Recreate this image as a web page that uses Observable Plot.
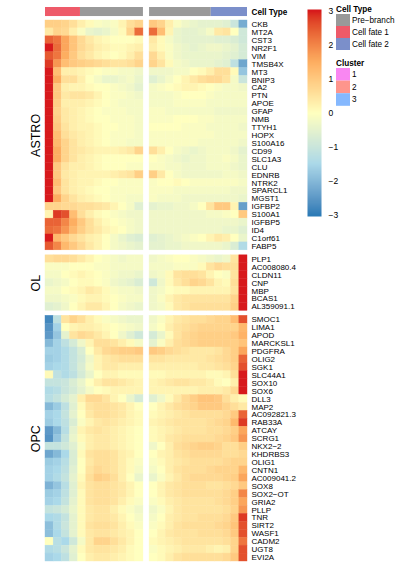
<!DOCTYPE html>
<html><head><meta charset="utf-8">
<script src="https://cdn.jsdelivr.net/npm/d3@7"></script>
<script src="https://cdn.jsdelivr.net/npm/@observablehq/plot@0.6"></script>
<style>
body{margin:0;background:#fff;}
#wrap{position:relative;width:400px;height:563px;font-family:"Liberation Sans",Arial,Helvetica,sans-serif;}
#wrap > *{position:absolute;left:0;top:0;}
</style></head><body><div id="wrap"></div>
<script>
// ---------------- DATA ----------------
const groups = ["ASTRO", "OL", "OPC"];
const groupSizes = [29, 7, 31];
const genes = [
  "CKB","MT2A","CST3","NR2F1","VIM","TMSB4X","MT3","BNIP3","CA2","PTN","APOE","GFAP","NMB","TTYH1","HOPX","S100A16","CD99","SLC1A3","CLU","EDNRB","NTRK2","SPARCL1","MGST1","IGFBP2","S100A1","IGFBP5","ID4","C1orf61","FABP5",
  "PLP1","AC008080.4","CLDN11","CNP","MBP","BCAS1","AL359091.1",
  "SMOC1","LIMA1","APOD","MARCKSL1","PDGFRA","OLIG2","SGK1","SLC44A1","SOX10","SOX6","DLL3","MAP2","AC092821.3","RAB33A","ATCAY","SCRG1","NKX2\u22122","KHDRBS3","OLIG1","CNTN1","AC009041.2","SOX8","SOX2\u2212OT","GRIA2","PLLP","TNR","SIRT2","WASF1","CADM2","UGT8","EVI2A"
];
// left panel: cell fate 1 (left) -> pre-branch (right)
const leftValues = [
  [0.9,0.9,0.8,0.6,0.3,0.1,-0.1,-0.2,-0.1,0.2,0.6,0.8],
  [0.4,0.8,0.7,0.3,-0.1,-0.4,-0.5,-0.4,-0.2,0.1,0.8,2.3],
  [2.4,2.2,1.6,1.1,0.7,0.4,0.2,0.1,0.0,0.0,0.0,0.1],
  [3.0,2.3,1.6,1.1,0.7,0.5,0.3,0.2,0.1,0.1,0.2,0.3],
  [2.5,2.2,1.5,1.0,0.6,0.4,0.2,0.1,0.0,0.1,0.3,0.6],
  [2.8,1.8,1.2,1.0,0.9,0.8,0.7,0.6,0.5,0.5,0.6,0.8],
  [3.0,1.2,0.3,0.3,0.2,0.1,0.0,-0.1,-0.1,-0.2,-0.2,-0.3],
  [3.0,1.5,0.6,0.6,0.3,0.0,-0.2,-0.4,-0.4,-0.3,-0.2,-0.4],
  [3.0,1.0,0.3,0.2,0.2,0.1,0.0,0.0,-0.1,-0.2,-0.3,-0.5],
  [3.0,1.0,0.4,0.5,0.5,0.4,0.2,0.0,-0.1,-0.1,-0.2,-0.3],
  [3.0,0.9,0.3,0.3,0.3,0.2,0.1,0.0,-0.1,-0.2,-0.2,-0.2],
  [3.0,0.8,0.4,0.3,0.2,0.1,0.0,-0.1,-0.1,-0.1,-0.2,-0.2],
  [3.0,0.9,0.4,0.3,0.2,0.1,0.0,0.0,-0.1,-0.1,-0.1,-0.2],
  [3.0,1.0,0.5,0.3,0.2,0.2,0.1,0.0,0.0,-0.1,-0.1,-0.2],
  [3.0,1.2,0.6,0.4,0.3,0.2,0.1,0.0,-0.1,-0.1,-0.1,-0.2],
  [3.0,1.3,0.8,0.5,0.3,0.2,0.1,0.0,-0.1,-0.1,-0.2,-0.2],
  [3.0,1.5,0.8,0.5,0.4,0.3,0.2,0.2,0.2,0.3,0.4,0.8],
  [3.0,1.5,0.8,0.5,0.3,0.2,0.1,0.0,0.0,0.0,0.0,0.0],
  [3.0,1.0,0.5,0.3,0.3,0.2,0.1,0.0,0.0,0.0,-0.1,-0.1],
  [3.0,1.0,0.4,0.3,0.2,0.2,0.2,0.2,0.3,0.4,0.5,0.9],
  [3.0,1.2,0.5,0.3,0.2,0.2,0.1,0.0,0.0,-0.1,-0.1,-0.1],
  [3.0,1.0,0.5,0.3,0.2,0.1,0.0,0.0,-0.1,-0.1,-0.1,-0.1],
  [3.0,1.5,0.8,0.5,0.3,0.2,0.1,0.0,-0.1,-0.1,-0.2,-0.2],
  [0.8,0.8,0.7,0.7,0.6,0.6,0.5,0.4,0.2,0.0,-0.2,-0.6],
  [0.2,2.8,2.6,1.2,0.6,0.3,0.1,0.0,-0.1,-0.2,-0.3,-0.3],
  [2.4,2.4,2.0,1.5,1.0,0.6,0.3,0.1,0.0,-0.1,-0.2,-0.3],
  [2.3,2.2,1.8,1.3,0.9,0.6,0.4,0.2,0.1,0.0,-0.2,-0.3],
  [3.0,1.3,1.0,0.7,0.5,0.3,0.2,0.0,-0.2,-0.4,-0.6,-0.7],
  [2.5,2.0,1.3,1.0,0.7,0.4,0.2,0.0,-0.2,-0.3,-0.4,-0.5],
  [0.6,0.7,0.7,0.6,0.4,0.2,0.0,-0.1,-0.2,-0.3,-0.2,-0.2],
  [-0.1,-0.1,-0.1,0.0,0.0,0.0,-0.1,-0.1,-0.2,-0.2,-0.2,-0.2],
  [-0.2,-0.2,0.0,0.1,0.2,0.1,0.0,-0.1,-0.2,-0.3,-0.3,-0.4],
  [-0.4,-0.3,-0.2,0.0,0.1,0.1,0.0,-0.1,-0.3,-0.4,-0.5,-0.7],
  [-0.2,-0.2,0.0,0.1,0.2,0.4,0.3,0.1,-0.1,-0.2,-0.2,-0.3],
  [-0.3,-0.3,-0.2,-0.1,0.1,0.2,0.2,0.1,0.0,-0.1,-0.2,-0.2],
  [-0.6,-0.5,-0.3,0.0,0.2,0.4,0.4,0.2,0.0,-0.2,-0.3,-0.4],
  [-2.8,-1.2,0.5,0.8,0.6,0.3,0.1,-0.1,-0.2,-0.3,-0.4,-0.4],
  [-2.6,-1.6,0.0,0.2,0.3,0.3,0.2,0.1,0.0,-0.1,-0.2,-0.3],
  [-2.5,-1.8,-0.5,0.5,0.7,0.6,0.4,0.2,0.0,-0.3,-0.6,-0.9],
  [-2.0,-1.6,-1.2,-0.8,-0.3,0.2,0.6,0.6,0.5,0.3,0.1,-0.2],
  [-1.6,-1.6,-1.4,-1.1,-0.7,0.0,0.4,0.7,0.8,0.9,0.9,1.0],
  [-1.7,-1.6,-1.4,-1.1,-0.8,-0.3,0.2,0.4,0.5,0.6,0.6,0.6],
  [-1.6,-1.5,-1.4,-1.1,-0.7,-0.2,0.2,0.4,0.4,0.3,0.3,0.3],
  [0.1,-1.2,-1.4,-1.2,-0.8,-0.4,0.0,0.2,0.2,0.1,0.1,0.1],
  [-1.1,-1.1,-1.0,-0.7,-0.4,0.0,0.3,0.5,0.5,0.4,0.3,0.2],
  [-1.4,-1.3,-1.0,-0.8,-0.5,-0.2,0.0,0.1,0.2,0.2,0.2,0.2],
  [-1.3,-1.1,-0.8,-0.5,0.3,0.7,0.7,0.5,0.2,0.0,-0.4,-0.8],
  [-2.0,-1.7,-1.2,-0.6,0.1,0.5,0.6,0.6,0.5,0.4,0.2,0.0],
  [-1.6,-1.5,-1.1,-0.5,0.0,0.4,0.6,0.6,0.5,0.4,0.2,0.1],
  [-1.7,-1.5,-1.2,-0.7,-0.1,0.2,0.4,0.5,0.4,0.3,0.2,0.1],
  [-2.5,-2.0,-1.3,-0.5,0.2,0.4,0.5,0.4,0.3,0.2,0.1,0.0],
  [-2.6,-1.8,-1.1,-0.4,0.1,0.3,0.4,0.4,0.3,0.2,0.1,0.0],
  [-1.1,-1.1,-0.9,-0.6,-0.1,0.3,0.4,0.4,0.3,0.2,0.1,0.0],
  [-2.3,-2.0,-1.5,-0.7,0.1,0.5,0.6,0.6,0.5,0.3,0.2,0.0],
  [-1.7,-1.6,-1.3,-0.7,0.0,0.4,0.6,0.6,0.5,0.3,0.1,-0.1],
  [-1.6,-1.5,-1.2,-0.6,0.0,0.5,0.7,0.6,0.5,0.3,0.1,-0.2],
  [-1.6,-1.4,-1.1,-0.5,0.1,0.6,0.9,0.8,0.6,0.3,0.0,-0.4],
  [-2.1,-1.8,-1.3,-0.6,0.2,0.5,0.6,0.6,0.5,0.4,0.2,0.0],
  [-1.7,-1.6,-1.2,-0.6,0.1,0.5,0.6,0.6,0.5,0.4,0.2,0.0],
  [-1.6,-1.5,-1.1,-0.5,0.1,0.5,0.6,0.6,0.5,0.3,0.1,-0.1],
  [-1.1,-1.0,-0.8,-0.4,0.1,0.4,0.5,0.5,0.3,0.1,-0.1,-0.3],
  [-1.5,-1.4,-1.1,-0.5,0.1,0.4,0.5,0.5,0.4,0.2,0.0,-0.2],
  [-1.9,-1.4,-1.0,-0.5,0.1,0.5,0.6,0.6,0.5,0.3,0.1,-0.1],
  [-1.9,-1.5,-1.1,-0.5,0.1,0.4,0.5,0.5,0.4,0.3,0.2,0.0],
  [0.0,-1.3,-1.5,-0.9,-0.2,0.4,0.8,0.8,0.6,0.4,0.2,0.0],
  [-1.4,-1.3,-1.0,-0.5,0.1,0.4,0.5,0.5,0.4,0.3,0.1,0.0],
  [-1.6,-1.5,-1.2,-0.6,0.0,0.3,0.4,0.4,0.3,0.2,0.1,0.0]
];
// right panel: pre-branch (left) -> cell fate 2 (right)
const rightValues = [
  [1.0,0.8,0.3,-0.1,-0.3,-0.4,-0.5,-0.5,-0.5,-0.6,-1.0,-2.2],
  [2.3,1.2,0.2,-0.4,-0.5,-0.5,-0.4,-0.2,0.4,0.5,0.0,-0.9],
  [0.4,0.1,-0.2,-0.4,-0.5,-0.5,-0.5,-0.5,-0.6,-0.6,-0.7,-0.9],
  [0.3,0.1,-0.1,-0.3,-0.4,-0.5,-0.4,-0.3,-0.3,-0.4,-0.5,-0.8],
  [0.7,0.3,-0.1,-0.3,-0.4,-0.4,-0.4,-0.4,-0.4,-0.5,-0.6,-0.8],
  [0.8,0.5,0.1,-0.2,-0.3,-0.4,-0.4,-0.4,-0.5,-0.6,-1.2,-2.3],
  [-0.3,-0.3,-0.3,-0.2,-0.2,0.0,0.1,0.3,0.6,0.6,0.1,-1.8],
  [-0.6,-0.4,-0.2,0.0,0.2,0.4,0.6,0.7,0.7,0.5,-0.2,-1.0],
  [-0.2,-0.1,0.0,0.1,0.2,0.2,0.1,0.0,-0.1,-0.2,-0.2,-0.3],
  [-0.2,-0.2,-0.2,-0.1,0.0,0.0,0.0,-0.1,-0.2,-0.2,-0.2,-0.2],
  [-0.2,-0.2,-0.2,-0.1,-0.1,-0.1,-0.1,-0.2,-0.2,-0.2,-0.2,-0.2],
  [-0.1,-0.1,-0.2,-0.2,-0.2,-0.2,-0.2,-0.2,-0.3,-0.3,-0.3,-0.3],
  [-0.1,-0.1,-0.1,0.0,0.0,0.0,-0.1,-0.1,-0.2,-0.2,-0.2,-0.2],
  [0.0,0.0,0.0,0.0,-0.1,-0.1,-0.1,-0.2,-0.2,-0.2,-0.2,-0.3],
  [-0.1,-0.1,-0.1,-0.1,-0.1,-0.1,-0.1,-0.1,-0.2,-0.2,-0.2,-0.2],
  [-0.1,-0.1,-0.1,-0.1,-0.1,-0.1,-0.2,-0.2,-0.2,-0.2,-0.2,-0.3],
  [0.6,0.3,0.0,-0.2,-0.3,-0.4,-0.3,-0.2,-0.2,-0.2,-0.3,-0.5],
  [0.0,-0.1,-0.2,-0.3,-0.4,-0.3,-0.3,-0.2,-0.2,-0.1,-0.2,-0.4],
  [-0.1,-0.1,-0.2,-0.2,-0.3,-0.3,-0.3,-0.2,-0.2,-0.2,-0.3,-0.4],
  [0.9,0.4,0.0,-0.2,-0.3,-0.3,-0.3,-0.3,-0.3,-0.2,-0.2,-0.3],
  [-0.1,0.0,0.0,0.1,0.0,-0.1,-0.1,-0.1,-0.1,-0.1,-0.1,-0.2],
  [-0.1,-0.1,-0.1,-0.2,-0.2,-0.2,-0.2,-0.2,-0.2,-0.2,-0.3,-0.3],
  [-0.1,-0.2,-0.2,-0.2,-0.3,-0.3,-0.3,-0.3,-0.3,-0.3,-0.3,-0.4],
  [-0.5,-0.4,-0.4,-0.3,-0.3,-0.2,0.0,0.5,1.0,1.0,0.2,-2.4],
  [-0.3,-0.3,-0.3,-0.3,-0.3,-0.3,-0.3,-0.2,-0.2,-0.1,0.0,1.0],
  [-0.3,-0.3,-0.3,-0.3,-0.3,-0.3,-0.3,-0.3,-0.3,-0.3,-0.3,-0.4],
  [-0.3,-0.3,-0.3,-0.3,-0.3,-0.3,-0.3,-0.3,-0.3,-0.4,-0.4,-0.6],
  [-0.6,-0.5,-0.4,-0.3,-0.2,-0.1,0.0,0.2,0.4,0.3,0.0,-0.4],
  [-0.5,-0.5,-0.4,-0.4,-0.3,-0.3,-0.3,-0.3,-0.3,-0.4,-0.7,-1.4],
  [-0.3,-0.2,-0.1,0.0,0.0,-0.1,-0.2,-0.3,-0.4,-0.3,0.5,3.0],
  [-0.2,-0.2,-0.2,-0.1,-0.1,-0.1,0.1,0.5,0.7,0.6,0.6,3.0],
  [-0.3,-0.2,0.1,0.5,0.6,0.6,0.5,0.2,0.0,-0.1,0.5,3.0],
  [-0.9,-0.3,0.1,0.4,0.6,0.8,0.7,0.5,0.2,0.1,0.6,3.0],
  [-0.3,-0.2,0.0,0.1,0.1,0.2,0.2,0.2,0.2,0.2,0.5,3.0],
  [-0.3,-0.1,0.2,0.4,0.5,0.5,0.5,0.5,0.5,0.5,0.8,3.0],
  [-0.3,-0.2,0.1,0.4,0.5,0.6,0.6,0.6,0.6,0.6,0.9,3.0],
  [-0.3,-0.1,0.2,0.4,0.5,0.6,0.6,0.7,0.8,0.8,1.2,2.6],
  [-0.2,0.0,0.3,0.5,0.6,0.7,0.8,0.8,0.8,0.8,0.8,1.3],
  [-0.8,-0.4,0.1,0.5,0.7,0.8,0.9,0.9,0.9,0.9,1.0,1.4],
  [-0.5,-0.1,0.3,0.6,0.7,0.8,0.9,0.9,0.9,0.9,0.9,1.1],
  [1.0,0.9,0.7,0.6,0.5,0.4,0.4,0.4,0.5,0.7,0.9,1.6],
  [0.5,0.5,0.4,0.4,0.4,0.4,0.4,0.5,0.6,0.7,0.9,2.4],
  [0.3,0.3,0.3,0.3,0.3,0.3,0.4,0.4,0.5,0.6,0.8,2.6],
  [0.1,0.1,0.2,0.2,0.2,0.2,0.2,0.1,0.1,0.2,0.6,3.0],
  [0.2,0.3,0.4,0.5,0.5,0.4,0.4,0.3,0.1,0.0,0.3,3.0],
  [0.2,0.2,0.2,0.2,0.2,0.2,0.3,0.3,0.3,0.4,0.7,3.0],
  [-0.6,-0.3,0.1,0.4,0.7,0.9,1.1,1.1,1.0,0.6,0.3,0.1],
  [0.0,0.2,0.4,0.6,0.7,0.8,1.0,1.0,1.0,0.8,0.6,0.4],
  [0.1,0.2,0.3,0.4,0.5,0.6,0.6,0.6,0.6,0.7,1.0,2.4],
  [0.2,0.3,0.4,0.5,0.5,0.5,0.5,0.6,0.7,0.8,1.3,2.8],
  [0.1,0.2,0.3,0.4,0.5,0.5,0.5,0.6,0.6,0.7,0.9,1.6],
  [0.1,0.2,0.4,0.5,0.6,0.6,0.6,0.6,0.7,0.8,1.0,1.8],
  [-0.3,0.0,0.3,0.6,0.7,0.8,0.9,0.9,0.8,0.6,0.6,0.9],
  [0.0,0.2,0.3,0.5,0.6,0.7,0.7,0.7,0.7,0.6,0.6,0.7],
  [-0.1,0.1,0.3,0.4,0.5,0.6,0.6,0.6,0.6,0.7,0.8,0.8],
  [-0.2,0.0,0.3,0.5,0.6,0.6,0.6,0.7,0.8,0.8,0.8,1.3],
  [-0.4,-0.1,0.2,0.4,0.6,0.7,0.7,0.7,0.7,0.8,0.9,1.6],
  [0.0,0.2,0.4,0.5,0.6,0.6,0.6,0.5,0.5,0.6,0.7,1.0],
  [0.0,0.2,0.4,0.5,0.6,0.6,0.6,0.6,0.6,0.7,0.9,2.0],
  [-0.1,0.1,0.3,0.4,0.5,0.5,0.5,0.5,0.6,0.7,0.9,1.6],
  [-0.3,-0.1,0.2,0.4,0.5,0.5,0.5,0.5,0.5,0.6,0.8,1.8],
  [-0.2,0.0,0.3,0.4,0.5,0.5,0.6,0.6,0.6,0.7,1.0,2.8],
  [-0.1,0.1,0.3,0.5,0.6,0.6,0.6,0.6,0.7,0.8,1.1,2.6],
  [0.0,0.2,0.4,0.5,0.5,0.5,0.6,0.6,0.6,0.7,1.0,2.6],
  [0.1,0.2,0.3,0.4,0.5,0.5,0.5,0.5,0.5,0.6,0.8,2.2],
  [-0.1,0.1,0.2,0.3,0.4,0.4,0.4,0.3,0.2,0.3,0.8,2.6],
  [0.0,0.1,0.3,0.5,0.6,0.6,0.6,0.6,0.6,0.7,1.0,2.6]
];
// top annotation (fraction of each panel's pseudotime)
const annoPanel = ["left", "left", "right", "right"];
const annoType  = ["Cell fate 1", "Pre\u2212branch", "Pre\u2212branch", "Cell fate 2"];
const annoStart = [0, 0.357, 0, 0.63];
const annoEnd   = [0.357, 1, 0.63, 1];
const cellTypes = ["Pre\u2212branch", "Cell fate 1", "Cell fate 2"];
const cellTypeColors = ["#999999", "#EE5A69", "#7B8FCA"];
const clusters = ["1", "2", "3"];
const clusterColors = ["#F987F2", "#FE958C", "#85B8FE"];
const colorStops = [-3, -1.5, 0, 1.5, 3];
const colorRange = ["#2C7BB6", "#ABD9E9", "#FFFFBF", "#FDAE61", "#D7191C"];
const legendTicks = [-3, -2, -1, 0, 1, 2, 3];

// ---------------- BUILD ----------------
const FONT = '"Liberation Sans", Arial, Helvetica, sans-serif';
const nCols = 12, gapX = 0.75, gapY = 0.63;
const xTotal = 2 * nCols + gapX;
const rowY = [];
let idx = 0;
groups.forEach((g, gi) => {
  for (let k = 0; k < groupSizes[gi]; k++) { rowY.push(idx + gi * gapY); idx++; }
});
const yTotal = idx + (groups.length - 1) * gapY;
const panelX0 = {left: 0, right: nCols + gapX};

const cells = [];
genes.forEach((g, i) => {
  leftValues[i].forEach((v, j) => cells.push({gene: g, x: panelX0.left + j, y: rowY[i], v}));
  rightValues[i].forEach((v, j) => cells.push({gene: g, x: panelX0.right + j, y: rowY[i], v}));
});
const labels = genes.map((g, i) => ({gene: g, y: rowY[i] + 0.5}));
let start = 0;
const groupLabels = groups.map((g, gi) => {
  const y = rowY[start] + groupSizes[gi] / 2; start += groupSizes[gi]; return {g, y};
});
const anno = annoPanel.map((p, i) => ({
  type: annoType[i],
  x1: panelX0[p] + annoStart[i] * nCols,
  x2: panelX0[p] + annoEnd[i] * nCols
}));
const annoY1 = -1.64, annoY2 = -0.5;

const colorOpts = {type: "linear", domain: colorStops, range: colorRange, interpolate: "lab", clamp: true};

const main = Plot.plot({
  width: 400, height: 563,
  marginLeft: 45, marginRight: 153, marginTop: 20, marginBottom: 2,
  x: {domain: [0, xTotal], axis: null},
  y: {domain: [0, yTotal], reverse: true, axis: null},
  color: colorOpts,
  style: {fontFamily: FONT, background: "transparent"},
  marks: [
    Plot.rect(cells, {x1: "x", x2: d => d.x + 1, y1: "y", y2: d => d.y + 1, fill: "v", stroke: "v", strokeWidth: 0.4}),
    ...cellTypes.map((t, ti) => Plot.rect(anno.filter(a => a.type === t), {
      x1: "x1", x2: "x2", y1: () => annoY1, y2: () => annoY2, fill: cellTypeColors[ti]
    })),
    Plot.text(labels, {x: () => xTotal, y: "y", text: "gene", dx: 4, textAnchor: "start", fontSize: 8, fill: "#000"}),
    Plot.text(["Cell Type"], {x: () => xTotal, y: () => (annoY1 + annoY2) / 2, text: d => d, dx: 4, textAnchor: "start", fontSize: 8.2, fontWeight: "bold", fill: "#000"}),
    Plot.text(groupLabels, {x: () => 0, y: "y", text: "g", rotate: -90, dx: -10, fontSize: 12.5, fill: "#000"})
  ]
});
document.getElementById("wrap").appendChild(main);

// color bar
const bar = Plot.plot({
  width: 60, height: 225,
  marginLeft: 7, marginRight: 39, marginTop: 9, marginBottom: 9,
  x: {domain: [0, 1], axis: null},
  y: {domain: [-3.05, 3.05]},
  color: colorOpts,
  style: {fontFamily: FONT, background: "transparent", fontSize: "8.5px"},
  marks: [
    Plot.raster({x1: 0, x2: 1, y1: -3.05, y2: 3.05, fill: (x, y) => y, width: 1, height: 200, imageRendering: "auto"}),
    Plot.axisY(legendTicks, {anchor: "right", tickSize: 0, tickPadding: 7, fontSize: 8.5, label: null})
  ]
});
bar.style.left = "300px";
document.getElementById("wrap").appendChild(bar);

// categorical legends
const svg = d3.select("#wrap").append("svg").attr("width", 400).attr("height", 563)
  .style("font-family", FONT).style("pointer-events", "none");
function legend(title, names, colors, top, sw) {
  svg.append("text").attr("x", 336).attr("y", top).attr("font-size", 8.2).attr("font-weight", "bold").text(title);
  names.forEach((n, i) => {
    const y = top + 2.5 + i * sw;
    svg.append("rect").attr("x", 336).attr("y", y).attr("width", 14).attr("height", sw).attr("fill", colors[i]);
    svg.append("text").attr("x", 352).attr("y", y + sw / 2).attr("dy", "0.35em").attr("font-size", 8.2).text(n);
  });
}
legend("Cell Type", cellTypes, cellTypeColors, 11.5, 12);
legend("Cluster", clusters, clusterColors, 65.5, 12.6);
</script></body></html>
